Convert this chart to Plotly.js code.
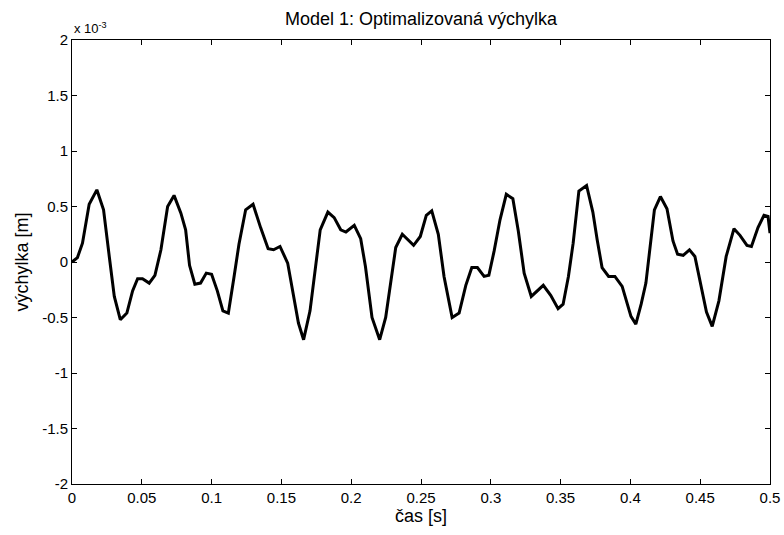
<!DOCTYPE html>
<html>
<head>
<meta charset="utf-8">
<script src="https://cdn.plot.ly/plotly-3.0.1.min.js"></script>
<style>html,body{margin:0;padding:0;background:#fff;}#plot{width:784px;height:535px;}</style>
</head>
<body>
<div id="plot"></div>
<script>
// time [s]
var casS = [0, 0.0039, 0.0075, 0.0123, 0.0178, 0.0226, 0.0267, 0.0303, 0.0346, 0.0393,
  0.0434, 0.0470, 0.0505, 0.0553, 0.0594, 0.0637, 0.0685, 0.0731, 0.0780, 0.0814,
  0.0842, 0.0880, 0.0921, 0.0962, 0.1000, 0.1041, 0.1081, 0.1120, 0.1160, 0.1196,
  0.1244, 0.1297, 0.1351, 0.1405, 0.1444, 0.1490, 0.1545, 0.1581, 0.1622, 0.1659,
  0.1705, 0.1778, 0.1833, 0.1878, 0.1925, 0.1962, 0.2022, 0.2068, 0.2102, 0.2149,
  0.2204, 0.2247, 0.2319, 0.2366, 0.2447, 0.2495, 0.2538, 0.2577, 0.2624, 0.2665,
  0.2723, 0.2773, 0.2821, 0.2864, 0.2904, 0.2952, 0.2986, 0.3024, 0.3066, 0.3111,
  0.3158, 0.3197, 0.3239, 0.3290, 0.3330, 0.3376, 0.3429, 0.3482, 0.3518, 0.3556,
  0.3590, 0.3631, 0.3686, 0.3731, 0.3762, 0.3797, 0.3844, 0.3889, 0.3941, 0.3977,
  0.4004, 0.4039, 0.4077, 0.4111, 0.4140, 0.4172, 0.4215, 0.4262, 0.4305, 0.4338,
  0.4378, 0.4423, 0.4462, 0.4507, 0.4545, 0.4586, 0.4634, 0.4686, 0.4742, 0.4785,
  0.4835, 0.4867, 0.4914, 0.4957, 0.4986, 0.5000];
// displacement [x 10^-3 m]
var vychylka = [0.00, 0.04, 0.17, 0.52, 0.65, 0.47, 0.05, -0.31, -0.52, -0.46,
  -0.26, -0.15, -0.15, -0.19, -0.12, 0.11, 0.50, 0.60, 0.44, 0.29,
  -0.03, -0.20, -0.19, -0.10, -0.11, -0.26, -0.44, -0.46, -0.14, 0.16,
  0.47, 0.52, 0.31, 0.12, 0.11, 0.14, -0.01, -0.27, -0.55, -0.70,
  -0.44, 0.29, 0.45, 0.40, 0.29, 0.27, 0.33, 0.21, -0.04, -0.50,
  -0.70, -0.50, 0.13, 0.25, 0.15, 0.23, 0.42, 0.46, 0.25, -0.13,
  -0.50, -0.46, -0.21, -0.05, -0.05, -0.13, -0.12, 0.10, 0.38, 0.61,
  0.57, 0.28, -0.10, -0.31, -0.26, -0.21, -0.30, -0.42, -0.38, -0.13,
  0.17, 0.64, 0.69, 0.45, 0.20, -0.05, -0.13, -0.13, -0.22, -0.38,
  -0.49, -0.56, -0.38, -0.19, 0.10, 0.47, 0.59, 0.48, 0.19, 0.07,
  0.06, 0.11, 0.05, -0.22, -0.45, -0.58, -0.35, 0.05, 0.30, 0.24,
  0.15, 0.14, 0.31, 0.42, 0.41, 0.26];

var xTickVals = [0, 0.05, 0.1, 0.15, 0.2, 0.25, 0.3, 0.35, 0.4, 0.45, 0.5];
var xTickText = ['0', '0.05', '0.1', '0.15', '0.2', '0.25', '0.3', '0.35', '0.4', '0.45', '0.5'];
var yTickVals = [-2, -1.5, -1, -0.5, 0, 0.5, 1, 1.5, 2];
var yTickText = ['-2', '-1.5', '-1', '-0.5', '0', '0.5', '1', '1.5', '2'];

var FONT = 'Liberation Sans, Arial, Helvetica, sans-serif';

var trace = {
  x: casS, y: vychylka, type: 'scatter', mode: 'lines',
  line: {color: '#000000', width: 3}, hoverinfo: 'skip'
};

var layout = {
  width: 784, height: 535,
  margin: {l: 72, r: 14, t: 40, b: 51, pad: 0},
  paper_bgcolor: '#ffffff', plot_bgcolor: '#ffffff',
  showlegend: false,
  font: {family: FONT, size: 15, color: '#000000'},
  title: {text: 'Model 1: Optimalizovaná výchylka', font: {family: FONT, size: 18, color: '#000'},
    xref: 'paper', x: 0.5, xanchor: 'center', yref: 'container', y: 0.965, yanchor: 'middle'},
  xaxis: {
    range: [0, 0.5], tickvals: xTickVals, ticktext: xTickText,
    ticks: 'inside', ticklen: 5, tickcolor: '#000', tickwidth: 1,
    showline: true, linecolor: '#000', linewidth: 1, mirror: 'ticks',
    showgrid: false, zeroline: false,
    tickfont: {family: FONT, size: 15, color: '#000'},
    title: {text: 'čas [s]', font: {family: FONT, size: 18, color: '#000'}, standoff: 4}
  },
  yaxis: {
    range: [-2, 2], tickvals: yTickVals, ticktext: yTickText,
    ticks: 'inside', ticklen: 5, tickcolor: '#000', tickwidth: 1,
    showline: true, linecolor: '#000', linewidth: 1, mirror: 'ticks',
    showgrid: false, zeroline: false,
    tickfont: {family: FONT, size: 15, color: '#000'},
    title: {text: 'výchylka [m]', font: {family: FONT, size: 18, color: '#000'}, standoff: 8}
  },
  annotations: [{
    xref: 'paper', yref: 'paper', x: 0, y: 1, xanchor: 'left', yanchor: 'bottom',
    yshift: 2, xshift: 0, showarrow: false,
    text: 'x 10<sup>-3</sup>', font: {family: FONT, size: 13, color: '#000'}
  }]
};

Plotly.newPlot('plot', [trace], layout, {displayModeBar: false, staticPlot: true});
</script>
</body>
</html>
